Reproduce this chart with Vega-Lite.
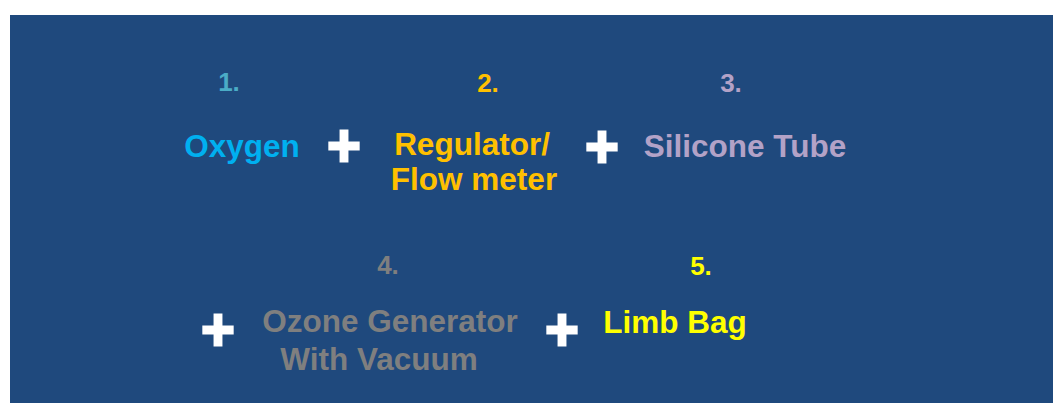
{
  "$schema": "https://vega.github.io/schema/vega-lite/v6.json",
  "width": 1053,
  "height": 403,
  "autosize": {"type": "fit", "contains": "padding"},
  "padding": {"left": 10, "top": 15, "right": 0, "bottom": 0},
  "background": "white",
  "config": {"view": {"fill": "#1F497D", "stroke": null}},
  "datasets": {
    "labels": [
      {"x": 229, "y": 91, "text": "1.", "item": "1", "kind": "number"},
      {"x": 488, "y": 92, "text": "2.", "item": "2", "kind": "number"},
      {"x": 731, "y": 92, "text": "3.", "item": "3", "kind": "number"},
      {"x": 388, "y": 274, "text": "4.", "item": "4", "kind": "number"},
      {"x": 701, "y": 275, "text": "5.", "item": "5", "kind": "number"},
      {"x": 242, "y": 157, "text": "Oxygen", "item": "1w", "kind": "word"},
      {"x": 472, "y": 155, "text": "Regulator/", "item": "2", "kind": "word"},
      {"x": 474, "y": 190, "text": "Flow meter", "item": "2", "kind": "word"},
      {"x": 745, "y": 157, "text": "Silicone Tube", "item": "3", "kind": "word"},
      {"x": 390, "y": 332, "text": "Ozone Generator", "item": "4", "kind": "word"},
      {"x": 379, "y": 370, "text": "With Vacuum", "item": "4", "kind": "word"},
      {"x": 675, "y": 333, "text": "Limb Bag", "item": "5", "kind": "word"}
    ],
    "plus": [
      {"x": 344, "y": 146},
      {"x": 602, "y": 147},
      {"x": 218, "y": 330},
      {"x": 562, "y": 330}
    ]
  },
  "layer": [
    {
      "data": {"name": "plus"},
      "mark": {
        "type": "point",
        "filled": true,
        "opacity": 1,
        "color": "white",
        "size": 1089,
        "shape": "M-0.27,-1H0.27V-0.27H0.95V0.27H0.27V1H-0.27V0.27H-0.95V-0.27H-0.27Z"
      },
      "encoding": {
        "x": {"field": "x", "type": "quantitative", "scale": {"domain": [10, 1053]}, "axis": null},
        "y": {"field": "y", "type": "quantitative", "scale": {"domain": [15, 403], "reverse": true}, "axis": null}
      }
    },
    {
      "data": {"name": "labels"},
      "transform": [{"filter": "datum.kind === 'number'"}],
      "mark": {"type": "text", "font": "Liberation Sans", "fontWeight": "bold", "fontSize": 26, "align": "center", "baseline": "alphabetic"},
      "encoding": {
        "x": {"field": "x", "type": "quantitative", "scale": {"domain": [10, 1053]}, "axis": null},
        "y": {"field": "y", "type": "quantitative", "scale": {"domain": [15, 403], "reverse": true}, "axis": null},
        "text": {"field": "text"},
        "color": {"field": "item", "type": "nominal", "legend": null,
          "scale": {"domain": ["1", "1w", "2", "3", "4", "5"], "range": ["#4BACC6", "#00B0F0", "#FFC000", "#B3A2C7", "#7F7F7F", "#FFFF00"]}}
      }
    },
    {
      "data": {"name": "labels"},
      "transform": [{"filter": "datum.kind === 'word'"}],
      "mark": {"type": "text", "font": "Liberation Sans", "fontWeight": "bold", "fontSize": 31.5, "align": "center", "baseline": "alphabetic"},
      "encoding": {
        "x": {"field": "x", "type": "quantitative", "scale": {"domain": [10, 1053]}, "axis": null},
        "y": {"field": "y", "type": "quantitative", "scale": {"domain": [15, 403], "reverse": true}, "axis": null},
        "text": {"field": "text"},
        "color": {"field": "item", "type": "nominal", "legend": null,
          "scale": {"domain": ["1", "1w", "2", "3", "4", "5"], "range": ["#4BACC6", "#00B0F0", "#FFC000", "#B3A2C7", "#7F7F7F", "#FFFF00"]}}
      }
    }
  ]
}
